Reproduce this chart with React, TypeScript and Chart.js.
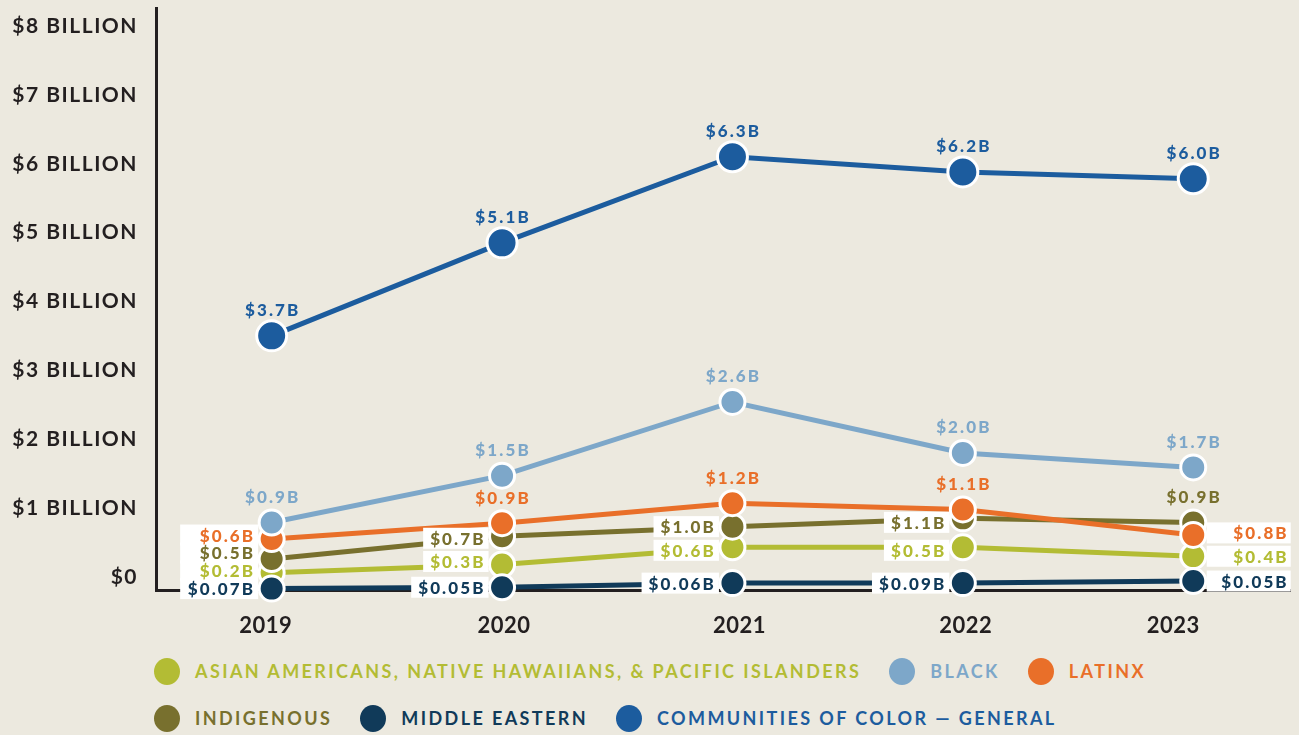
import React, { useEffect, useRef } from 'react';
import { Chart, registerables } from 'chart.js';
Chart.register(...registerables);

const years = [2019, 2020, 2021, 2022, 2023];
const yTickValues = [0, 1, 2, 3, 4, 5, 6, 7, 8];
const yTickLabels = ['$0', '$1 BILLION', '$2 BILLION', '$3 BILLION', '$4 BILLION', '$5 BILLION', '$6 BILLION', '$7 BILLION', '$8 BILLION'];

const seriesNames = [
  'ASIAN AMERICANS, NATIVE HAWAIIANS, & PACIFIC ISLANDERS',
  'BLACK',
  'LATINX',
  'INDIGENOUS',
  'MIDDLE EASTERN',
  'COMMUNITIES OF COLOR — GENERAL',
];

// values in billions, as plotted
const asianValues = [0.25, 0.37, 0.62, 0.62, 0.49];
const blackValues = [0.98, 1.66, 2.73, 1.99, 1.78];
const latinxValues = [0.74, 0.97, 1.26, 1.17, 0.8];
const indigenousValues = [0.45, 0.78, 0.92, 1.04, 0.98];
const middleEasternValues = [0.02, 0.04, 0.1, 0.1, 0.13];
const generalValues = [3.69, 5.04, 6.29, 6.07, 5.97];

// printed value labels
const asianLabels = ['$0.2B', '$0.3B', '$0.6B', '$0.5B', '$0.4B'];
const blackLabels = ['$0.9B', '$1.5B', '$2.6B', '$2.0B', '$1.7B'];
const latinxLabels = ['$0.6B', '$0.9B', '$1.2B', '$1.1B', '$0.8B'];
const indigenousLabels = ['$0.5B', '$0.7B', '$1.0B', '$1.1B', '$0.9B'];
const middleEasternLabels = ['$0.07B', '$0.05B', '$0.06B', '$0.09B', '$0.05B'];
const generalLabels = ['$3.7B', '$5.1B', '$6.3B', '$6.2B', '$6.0B'];

const COLORS = ['#B3BC34', '#7DA7C9', '#E96F29', '#78702E', '#103A59', '#1C5C9E'];
const DRAW_ORDER = [5, 1, 2, 3, 4, 0];
const POINT_R = [12.5, 12.5, 12.5, 12.5, 12.5, 15];
const YEAR_DX = [-6, 2, 7, 3, -20];
const BG = '#ECE9DF';
const INK = '#231F20';
const FONT = 'Lato, "Open Sans", sans-serif';

type Place = { pos: 'top' | 'left' | 'right'; dy?: number; w?: number };
const T: Place = { pos: 'top' };
const L: Place = { pos: 'left' };
const placements: Place[][] = [
  [{ pos: 'left', dy: -2, w: 78 }, { pos: 'left', dy: -3 }, { pos: 'left', dy: 3 }, { pos: 'left', dy: 3 }, { pos: 'right', w: 84 }],
  [T, T, T, T, T],
  [{ pos: 'left', dy: -4, w: 78 }, T, T, T, { pos: 'right', w: 84, dy: -2 }],
  [{ pos: 'left', dy: -6, w: 78 }, { pos: 'left', dy: 2 }, L, { pos: 'left', dy: 4 }, T],
  [{ pos: 'left', w: 78 }, L, L, L, { pos: 'right', w: 84 }],
  [T, T, T, T, T],
];

const valueSets = [asianValues, blackValues, latinxValues, indigenousValues, middleEasternValues, generalValues];
const labelSets = [asianLabels, blackLabels, latinxLabels, indigenousLabels, middleEasternLabels, generalLabels];

const labelPlugin = {
  id: 'pointLabels',
  beforeDraw(chart: any) {
    chart.ctx.letterSpacing = '1.5px';
  },
  afterDraw(chart: any) {
    const ctx = chart.ctx;
    const xs = chart.scales.x;
    ctx.save();
    ctx.font = `bold 22px ${FONT}`;
    ctx.letterSpacing = '0.5px';
    ctx.fillStyle = INK;
    ctx.textAlign = 'center';
    ctx.textBaseline = 'middle';
    years.forEach((yr, i) => ctx.fillText(String(yr), xs.getPixelForValue(yr) + YEAR_DX[i], chart.chartArea.bottom + 36));
    ctx.restore();
  },
  afterDatasetsDraw(chart: any) {
    const ctx = chart.ctx;
    ctx.save();
    ctx.font = `900 17px ${FONT}`;
    ctx.letterSpacing = '2.1px';
    ctx.textBaseline = 'middle';
    const items: any[] = [];
    chart.data.datasets.forEach((ds: any, di: number) => {
      const meta = chart.getDatasetMeta(di);
      const r = ds.pointRadius + 1;
      meta.data.forEach((pt: any, i: number) => {
        const text = ds.pointLabels[i];
        const pl: Place = ds.placements[i];
        const tw = ctx.measureText(text).width;
        const y = pt.y + (pl.dy || 0);
        if (pl.pos === 'top') {
          items.push({ text, color: ds.borderColor, x: pt.x + 1, y: pt.y - 26, align: 'center' });
        } else if (pl.pos === 'left') {
          const right = pt.x - r;
          const w = pl.w || tw + 10;
          items.push({ text, color: ds.borderColor, x: right - 3, y, align: 'right', box: [right - w, y - 10.5, w, 21] });
        } else {
          const left = pt.x + r;
          const w = pl.w || tw + 10;
          items.push({ text, color: ds.borderColor, x: left + w - 2, y, align: 'right', box: [left, y - 10.5, w, 21] });
        }
      });
    });
    ctx.fillStyle = '#FFFFFF';
    items.forEach((it) => { if (it.box) ctx.fillRect(it.box[0], it.box[1], it.box[2], it.box[3]); });
    items.forEach((it) => {
      ctx.fillStyle = it.color;
      ctx.textAlign = it.align;
      ctx.fillText(it.text, it.x, it.y + 1);
    });
    ctx.restore();
  },
};

function ChartView() {
  const ref = useRef<HTMLCanvasElement>(null);
  useEffect(() => {
    document.body.style.margin = '0';
    document.body.style.background = BG;
    const datasets = valueSets.map((vals, si) => ({
      label: seriesNames[si],
      data: years.map((yr, i) => ({ x: yr, y: vals[i] })),
      borderColor: COLORS[si],
      backgroundColor: COLORS[si],
      borderWidth: 5,
      pointRadius: POINT_R[si],
      pointBorderWidth: 3,
      pointBorderColor: '#FFFFFF',
      pointBackgroundColor: COLORS[si],
      order: DRAW_ORDER[si],
      clip: false,
      pointLabels: labelSets[si],
      placements: placements[si],
    }));
    const chart = new Chart(ref.current!, {
      type: 'line',
      data: { datasets: datasets as any },
      plugins: [labelPlugin as any],
      options: {
        animation: false,
        responsive: false,
        maintainAspectRatio: false,
        events: [],
        layout: { autoPadding: false, padding: { top: 8, right: 9, left: 0, bottom: 0 } },
        plugins: { legend: { display: false }, tooltip: { enabled: false } },
        scales: {
          x: {
            type: 'linear',
            min: 2018.498,
            max: 2023.42,
            grid: { display: false, drawTicks: false },
            border: { display: true, color: INK, width: 3 },
            afterBuildTicks: (s: any) => { s.ticks = years.map((v) => ({ value: v })); },
            afterFit: (s: any) => { s.height = 50; s.paddingLeft = 0; s.paddingRight = 0; },
            ticks: { display: false },
          },
          y: {
            type: 'linear',
            min: 0,
            max: 8.45,
            grid: { display: false, drawTicks: false },
            border: { display: true, color: INK, width: 3 },
            afterBuildTicks: (s: any) => { s.ticks = yTickValues.map((v) => ({ value: v })); },
            afterFit: (s: any) => { s.width = 156; s.paddingTop = 0; s.paddingBottom = 0; },
            ticks: {
              padding: 18,
              labelOffset: -13,
              color: INK,
              font: { family: FONT, size: 21, weight: 'bold' },
              callback: (v: any) => yTickLabels[yTickValues.indexOf(v)] ?? '',
            },
          },
        },
      } as any,
    });
    return () => chart.destroy();
  }, []);
  return <canvas ref={ref} width={1299} height={640} style={{ position: 'absolute', left: 0, top: 0 }} />;
}

function Legend() {
  const rows = [[0, 1, 2], [3, 4, 5]];
  return (
    <div style={{ position: 'absolute', left: 154, top: 658, fontFamily: FONT }}>
      {rows.map((row, ri) => (
        <div key={ri} style={{ display: 'flex', alignItems: 'center', height: 26, marginBottom: 21, gap: 28 }}>
          {row.map((si) => (
            <div key={si} style={{ display: 'flex', alignItems: 'center', gap: 15 }}>
              <span style={{ width: 26, height: 27, borderRadius: '50%', background: COLORS[si], display: 'inline-block' }} />
              <span style={{ color: COLORS[si], fontWeight: 700, fontSize: 18, letterSpacing: '2.4px', whiteSpace: 'nowrap' }}>{seriesNames[si]}</span>
            </div>
          ))}
        </div>
      ))}
    </div>
  );
}

export default function App() {
  return (
    <div style={{ position: 'relative', width: 1299, height: 735, background: BG, overflow: 'hidden' }}>
      <ChartView />
      <Legend />
    </div>
  );
}
